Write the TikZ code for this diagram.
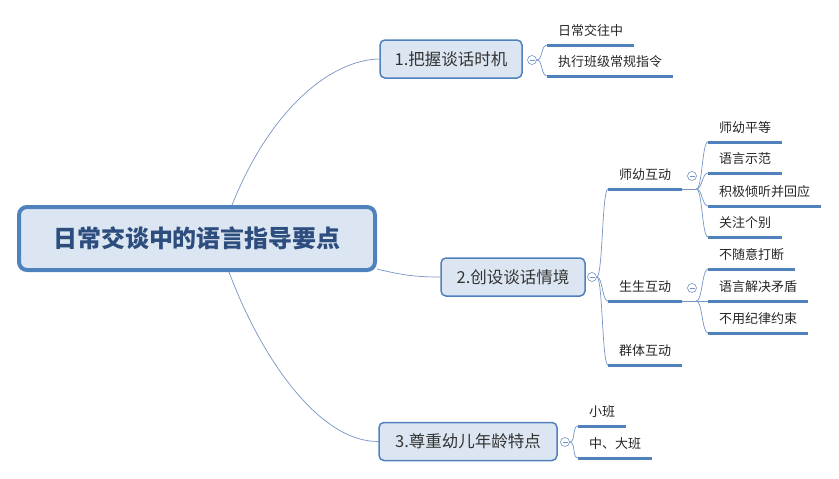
\documentclass[tikz,border=0pt]{standalone}
\usepackage{fontspec}
\usepackage{tikz}
\usetikzlibrary{calc}
\newfontfamily\cjk{Noto Sans CJK SC}
\definecolor{frameBlue}{RGB}{79,129,189}
\definecolor{fillBlue}{RGB}{220,230,242}
\definecolor{titleBlue}{RGB}{44,77,125}
\definecolor{linkBlue}{RGB}{118,148,196}
\newcommand\jut{14}
\newcommand\bend{6}
\newcommand{\leaf}[4]{
    \node[leaf, anchor=south west] (#1) at (#2, #3) {#4};
    \draw[uline] (#1.south west) -- (#1.south east);
}
\newcommand{\fanlink}[2]{
    \draw[link] (#1) .. controls ($(#1)+(\bend,0)$) and ($(#2)+(-\bend,0)$) .. (#2);
}

\begin{document}
\begin{tikzpicture}[x=1pt, y=-1pt,
    main/.style={draw=frameBlue, line width=4pt, fill=fillBlue, rounded corners=8pt,
        minimum width=356pt, minimum height=63pt, text=titleBlue,
        font=\cjk\bfseries\fontsize{24}{28}\selectfont},
    branch/.style={draw=frameBlue, line width=1.5pt, fill=fillBlue, rounded corners=5pt,
        minimum height=38pt, text=black!80, font=\cjk\fontsize{16.5}{20}\selectfont},
    leaf/.style={inner xsep=11pt, inner ysep=7pt, text height=11pt, text depth=2pt,
        text=black!85, font=\cjk\fontsize{13}{15}\selectfont},
    uline/.style={draw=frameBlue, line width=3pt},
    link/.style={draw=linkBlue, line width=0.7pt},
    fold/.style={circle, draw=linkBlue, fill=white, line width=0.6pt, minimum size=9pt, inner sep=0pt,
        path picture={\draw[linkBlue, line width=0.6pt] ([xshift=2pt]path picture bounding box.west) -- ([xshift=-2pt]path picture bounding box.east);}}]

    \useasboundingbox (0,0) rectangle (839,479);

    \node[main] (main) at (197,238.5) {日常交谈中的语言指导要点};

    \node[branch, minimum width=142pt] (b1) at (451,59) {1.把握谈话时机};
    \node[branch, minimum width=144pt] (b2) at (513,277) {2.创设谈话情境};
    \node[branch, minimum width=178pt] (b3) at (468,441.5) {3.尊重幼儿年龄特点};

    \draw[link] ([xshift=35pt]main.north) .. controls (270,110) and (330,60) .. (b1.west);
    \draw[link] ([yshift=3pt]main.south east) .. controls (405,276) and (420,277) .. (b2.west);
    \draw[link] ([xshift=32pt]main.south) .. controls (262,360) and (320,442) .. (b3.west);

    \node[fold] (f1) at (532,60) {};
    \node[fold] (f2) at (592,277) {};
    \node[fold] (f3) at (565,442) {};

    \leaf{l11}{547}{45}{日常交往中}
    \leaf{l12}{547}{76}{执行班级常规指令}
    \fanlink{f1.east}{l11.south west}
    \fanlink{f1.east}{l12.south west}

    \leaf{s1}{608}{189}{师幼互动}
    \leaf{s2}{608}{301}{生生互动}
    \leaf{s3}{608}{365}{群体互动}
    \fanlink{f2.east}{s1.south west}
    \fanlink{f2.east}{s2.south west}
    \fanlink{f2.east}{s3.south west}

    \leaf{s11}{708}{142}{师幼平等}
    \leaf{s12}{708}{173}{语言示范}
    \leaf{s13}{708}{206}{积极倾听并回应}
    \leaf{s14}{708}{237}{关注个别}
    \draw[link] (s1.south east) -- ++(\jut,0) coordinate (j1);
    \fanlink{j1}{s11.south west}
    \fanlink{j1}{s12.south west}
    \fanlink{j1}{s13.south west}
    \fanlink{j1}{s14.south west}
    \node[fold] (f21) at (692,176) {};

    \leaf{s21}{708}{269}{不随意打断}
    \leaf{s22}{708}{301}{语言解决矛盾}
    \leaf{s23}{708}{333}{不用纪律约束}
    \draw[link] (s2.south east) -- ++(\jut,0) coordinate (j2);
    \fanlink{j2}{s21.south west}
    \fanlink{j2}{s22.south west}
    \fanlink{j2}{s23.south west}
    \node[fold] (f22) at (692,288) {};

    \leaf{l31}{578}{426}{小班}
    \leaf{l32}{578}{458}{中、大班}
    \fanlink{f3.east}{l31.south west}
    \fanlink{f3.east}{l32.south west}

\end{tikzpicture}
\end{document}
